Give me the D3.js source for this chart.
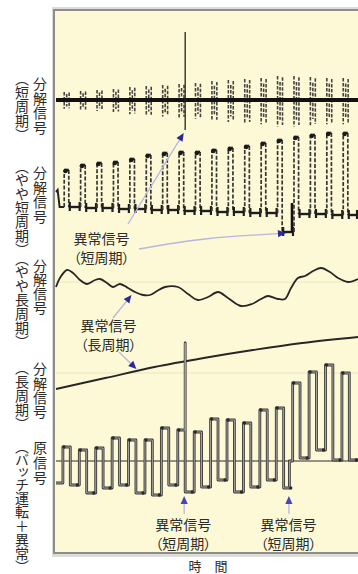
<!DOCTYPE html>
<html><head><meta charset="utf-8">
<script src="https://cdn.jsdelivr.net/npm/d3@7"></script>
<style>
html,body{margin:0;padding:0;background:#fff;}
svg{display:block;font-family:"Noto Sans CJK JP","Noto Sans",sans-serif;}
</style></head><body>
<svg id="chart" width="358" height="574"></svg>
<script>
// ---- data: one unit of time = one on/off period of the batch operation ----
const cycles = d3.range(18);

// original signal (batch operation + anomalies): level while running / while stopped
const rawStart = -2.2;
const rawHigh = [1.4, 1.1, 1.3, 2.3, 2.1, 2.1, 3.3, 3.1, 2.9, 4.2, 4.1, 3.8, 5.1, 5.3, 7.8, 8.9, 9.6, 8.8];
const rawLow  = [-2.4, -3.2, -2.7, -2.4, -3.2, -3.4, -2.4, -3.1, -2.6, -1.9, -3.1, -2.6, -1.9, -2.7, 0.3, 1.1, 0.1, 0.1];
const rawSpike = {cycle: 7, value: 11.8};          // short-period anomaly (spike)
const rawStep  = {cycle: 14, t: 14.22, value: 0.0}; // short-period anomaly (level jump)

// decomposed signal, short period: burst amplitude per period
const shortAmp = [0.8, 0.9, 1.0, 1.1, 1.3, 1.4, 1.5, 1.6, 1.7, 1.9, 2.0, 2.1, 2.2, 2.4, 2.4, 2.3, 2.2, 2.2];
const shortSpike = {up: 6.8, down: -3.0};

// decomposed signal, fairly short period: pulse top / trough level per period
const midTop    = [4.0, 4.5, 4.7, 4.8, 5.1, 5.5, 5.7, 5.8, 5.8, 6.0, 6.2, 6.4, 6.7, 7.0, 7.3, 7.5, 7.7, 7.7];
const midBottom = [0.3, 0.2, 0.2, 0.1, 0.1, 0.0, 0.0, -0.1, -0.1, -0.2, -0.2, -0.3, -0.3, -2.2, -0.4, -0.4, -0.5, -0.5];
const midStart = 1.8;

// decomposed signal, fairly long period
const longishT = [0, 0.24, 0.67, 1.04, 1.46, 1.89, 2.38, 2.68, 3.11, 3.47, 3.90, 4.39, 4.81, 5.30, 5.73, 6.15, 6.64, 7.43, 8.04, 8.65, 9.26, 9.87, 10.48, 11.27, 11.94, 12.49, 12.92, 13.53, 13.95, 14.32, 14.74, 15.17, 15.66, 16.15, 16.69, 17.18, 17.79, 18.4];
const longishV = [-0.5, 0.4, 1.2, 0.9, 0.2, -0.2, 0.2, 0.3, -0.1, -0.5, -0.2, -0.6, -1.0, -1.3, -1.3, -0.9, -0.5, -0.5, -1.2, -1.8, -1.5, -1.0, -1.6, -2.4, -2.2, -1.7, -1.4, -1.7, -1.7, -0.6, 0.4, 0.6, 1.1, 1.4, 1.0, 0.4, 0.0, 0.3];

// decomposed signal, long period (trend)
const longT = [0, 3, 6, 9, 12, 15, 18.4];
const longV = [-1.6, -0.5, 0.6, 1.5, 2.3, 3.0, 3.6];

// row titles (vertical text)
const rowTitles = [
  {main: "分解信号", sub: "（短周期）"},
  {main: "分解信号", sub: "（やや短周期）"},
  {main: "分解信号", sub: "（やや長周期）"},
  {main: "分解信号", sub: "（長周期）"},
  {main: "原信号",   sub: "（バッチ運転＋異常）"}
];
const anomalyText = "異常信号";
const shortText = "（短周期）";
const longText = "（長周期）";
const xTitle = "時　間";

// ---- layout ----
const svg = d3.select("#chart");
const cream = "#fdf9d7";
const ink = "#2a2a2a";

const x = d3.scaleLinear().domain([0, 18.4]).range([56, 358]);
const y1 = d3.scaleLinear().domain([-5, 5]).range([150, 50]);
const y2 = d3.scaleLinear().domain([0, 10]).range([210, 110]);
const y3 = d3.scaleLinear().domain([-5, 5]).range([332, 232]);
const y4 = d3.scaleLinear().domain([-5, 5]).range([423, 323]);
const y5 = d3.scaleLinear().domain([-5, 15]).range([511, 311]);

// panel with soft edge shading
svg.append("rect").attr("x", 52).attr("y", 7).attr("width", 310).attr("height", 550).attr("fill", "#dcdcd8");
svg.append("rect").attr("x", 54).attr("y", 10).attr("width", 310).attr("height", 543)
  .attr("fill", cream).attr("stroke", "#8e8e88").attr("stroke-width", 2);

const plot = svg.append("g");

// faint reference lines
[y3, y4].forEach(s => {
  plot.append("line").attr("x1", x(0)).attr("x2", x(18.4)).attr("y1", s(0)).attr("y2", s(0))
    .attr("stroke", "#ece5c0").attr("stroke-width", 1);
});
plot.append("line").attr("x1", x(0)).attr("x2", x(18.4)).attr("y1", y5(0)).attr("y2", y5(0))
  .attr("stroke", "#6e6e68").attr("stroke-width", 1.6);

// ---- short period ----
const riseOff = 0.42, highW = 0.45;
const spikeT = rawSpike.cycle + riseOff + highW;
const g1 = plot.append("g");
cycles.forEach(k => {
  [[k + 0.5, 1], [k + 0.65, 0.75], [k + 0.8, 0.95]].forEach(([t, f]) => {
    const a = shortAmp[k] * f;
    g1.append("line").attr("x1", x(t)).attr("x2", x(t))
      .attr("y1", y1(a)).attr("y2", y1(-a * 1.1))
      .attr("stroke", "#262626").attr("stroke-width", 1.6).attr("stroke-opacity", 0.85)
      .attr("stroke-dasharray", "3.5,1.5");
  });
});
g1.append("line").attr("x1", x(0)).attr("x2", x(18.4)).attr("y1", y1(0)).attr("y2", y1(0))
  .attr("stroke", "#111").attr("stroke-width", 4);
g1.append("line").attr("x1", x(spikeT)).attr("x2", x(spikeT))
  .attr("y1", y1(shortSpike.up)).attr("y2", y1(shortSpike.down))
  .attr("stroke", "#222").attr("stroke-width", 1.3);

// ---- fairly short period ----
const g2 = plot.append("g");
const pr = 0.5, pf = 0.78;
g2.append("path").attr("d", d3.line().x(d => x(d[0])).y(d => y2(d[1]))([[0, midStart], [0.1, midStart + 0.2], [0.22, midBottom[0]], [pr, midBottom[0]]]))
  .attr("fill", "none").attr("stroke", "#222").attr("stroke-width", 2);
cycles.forEach(k => {
  const prevB = k === 0 ? midBottom[0] : midBottom[k - 1];
  const tr = k + pr, tf = k + pf;
  const top = midTop[k], bot = midBottom[k];
  const endT = k === 17 ? 18.4 : k + 1 + pr;
  // pulse edges (broken strokes)
  [[tr, prevB, top], [tf, top, bot]].forEach(([t, a, b]) => {
    g2.append("line").attr("x1", x(t)).attr("x2", x(t)).attr("y1", y2(a)).attr("y2", y2(b))
      .attr("stroke", "#363636").attr("stroke-width", 1.7).attr("stroke-dasharray", "4,1.8");
  });
  // pulse top
  g2.append("line").attr("x1", x(tr)).attr("x2", x(tf)).attr("y1", y2(top)).attr("y2", y2(top))
    .attr("stroke", "#1e1e1e").attr("stroke-width", 2.6);
  g2.append("circle").attr("cx", x(tr + 0.08)).attr("cy", y2(top) + 1).attr("r", 2.3).attr("fill", "#1a1a1a");
  // trough
  g2.append("line").attr("x1", x(tf)).attr("x2", x(endT)).attr("y1", y2(bot)).attr("y2", y2(bot))
    .attr("stroke", "#1e1e1e").attr("stroke-width", 2.4);
  [tf + 0.06, endT - 0.06].forEach(t => {
    if (t > 18.4) return;
    g2.append("line").attr("x1", x(t)).attr("x2", x(t)).attr("y1", y2(bot + 0.5)).attr("y2", y2(bot - 0.4))
      .attr("stroke", "#1e1e1e").attr("stroke-width", 2.2);
  });
  if (bot < -1) {
    g2.append("line").attr("x1", x(endT - 0.12)).attr("x2", x(endT - 0.12))
      .attr("y1", y2(bot)).attr("y2", y2(0.7)).attr("stroke", "#111").attr("stroke-width", 2.6);
  }
});

// ---- fairly long period ----
plot.append("path")
  .attr("d", d3.line().x((d, i) => x(longishT[i])).y(d => y3(d)).curve(d3.curveCatmullRom.alpha(0.5))(longishV))
  .attr("fill", "none").attr("stroke", "#262626").attr("stroke-width", 1.8);

// ---- long period ----
plot.append("path")
  .attr("d", d3.line().x((d, i) => x(longT[i])).y(d => y4(d)).curve(d3.curveMonotoneX)(longV))
  .attr("fill", "none").attr("stroke", "#262626").attr("stroke-width", 1.8);

// ---- original signal ----
const rawPts = [[0, rawStart]];
let prev = rawStart;
const corners = [];
cycles.forEach(k => {
  const tr = k + riseOff, tf = tr + highW;
  if (k === rawStep.cycle) { rawPts.push([rawStep.t, prev], [rawStep.t, rawStep.value]); prev = rawStep.value; }
  rawPts.push([tr, prev], [tr, rawHigh[k]], [tf, rawHigh[k]]);
  corners.push([tr + 0.06, rawHigh[k]]);
  if (k === rawSpike.cycle) rawPts.push([tf, rawSpike.value]);
  rawPts.push([tf, rawLow[k]]);
  corners.push([Math.min(k + 1 + riseOff - 0.12, 18.35), rawLow[k]]);
  prev = rawLow[k];
});
rawPts.push([18.4, prev]);
const rawLine = d3.line().x(d => x(d[0])).y(d => y5(d[1]));
plot.append("path").attr("d", rawLine(rawPts)).attr("fill", "none")
  .attr("stroke", "#3a3a3a").attr("stroke-width", 2.8).attr("stroke-linejoin", "round");
plot.append("path").attr("d", rawLine(rawPts)).attr("fill", "none")
  .attr("stroke", "#b4b2a8").attr("stroke-width", 0.9).attr("stroke-linejoin", "round");
plot.selectAll("circle.c").data(corners).join("circle")
  .attr("cx", d => x(d[0])).attr("cy", d => y5(d[1])).attr("r", 1.7).attr("fill", "#2a2a2a");

// ---- annotations ----
const ann = svg.append("g");
function arrow(pts, color) {
  const [tx, ty] = pts[pts.length - 1];
  const [px, py] = pts[pts.length - 2];
  const ang = Math.atan2(ty - py, tx - px);
  const L = 8, Wd = 3.6;
  const bx = tx - L * Math.cos(ang), by = ty - L * Math.sin(ang);
  const body = pts.slice(0, -1).concat([[bx, by]]);
  ann.append("path").attr("d", d3.line().curve(d3.curveNatural)(body))
    .attr("fill", "none").attr("stroke", "#b6b6de").attr("stroke-width", 1.3);
  const nx = -Math.sin(ang), ny = Math.cos(ang);
  ann.append("path").attr("d", `M${tx},${ty}L${bx + nx * Wd},${by + ny * Wd}L${bx - nx * Wd},${by - ny * Wd}Z`)
    .attr("fill", color);
}
const navy = "#2a2a96";
arrow([[128, 224], [x(spikeT) - 1.5, y1(shortSpike.down) + 3]], navy);
arrow([[139, 249], [205, 239], [x(13.95) + 1, y2(midBottom[13]) + 1]], navy);
arrow([[113, 318], [x(4.6), y3(-1.3)]], navy);
arrow([[119, 352], [x(4.9), y4(0.4)]], navy);
arrow([[x(spikeT) - 1, 514], [x(spikeT) - 1, y5(rawLow[7]) + 4]], "#4646b6");
arrow([[x(rawStep.t) - 0.5, 514], [x(rawStep.t) - 0.5, y5(rawLow[13]) + 8]], "#4646b6");

// two-line callout: one text element, one line per tspan
function callout(lines, cx, cy, gap) {
  const t = ann.append("text").attr("text-anchor", "middle").attr("font-size", 14).attr("fill", ink)
    .style("font-feature-settings", '"palt" 1');
  lines.forEach((s, i) => {
    t.append("tspan").text(s).attr("x", cx).attr("y", cy + i * gap).attr("dominant-baseline", "central");
  });
}
callout([anomalyText, shortText], 101.5, 238.2, 18.6);
callout([anomalyText, longText], 108.5, 325, 18.6);
callout([anomalyText, shortText], x(spikeT) - 2, 524, 18.6);
callout([anomalyText, shortText], x(rawStep.t) - 1, 524, 18.6);
ann.append("text").text(xTitle).attr("x", 208).attr("y", 565.5)
  .attr("text-anchor", "middle").attr("dominant-baseline", "central")
  .attr("font-size", 13).attr("fill", ink);

// vertical row titles, one column of vertical text each
const side = svg.append("g").attr("fill", ink).attr("font-size", 14);
function vcol(str, cx, top, spacing) {
  side.append("text").text(str).attr("x", cx).attr("y", top)
    .style("writing-mode", "vertical-rl")
    .style("font-feature-settings", '"vpal" 1')
    .style("letter-spacing", spacing + "px");
}
const mainTops = [77, 166, 259, 362, 441];
const subTops = [78, 166, 258, 367, 446];
const mainSpacing = [0.5, 0.5, 0, 0.2, 0.8];
const subSpacing = [0.3, 0.3, 0.3, 0.3, 0];
rowTitles.forEach((r, i) => {
  vcol(r.main, 40, mainTops[i], mainSpacing[i]);
  vcol(r.sub, 22, subTops[i], subSpacing[i]);
});
</script>
</body></html>
